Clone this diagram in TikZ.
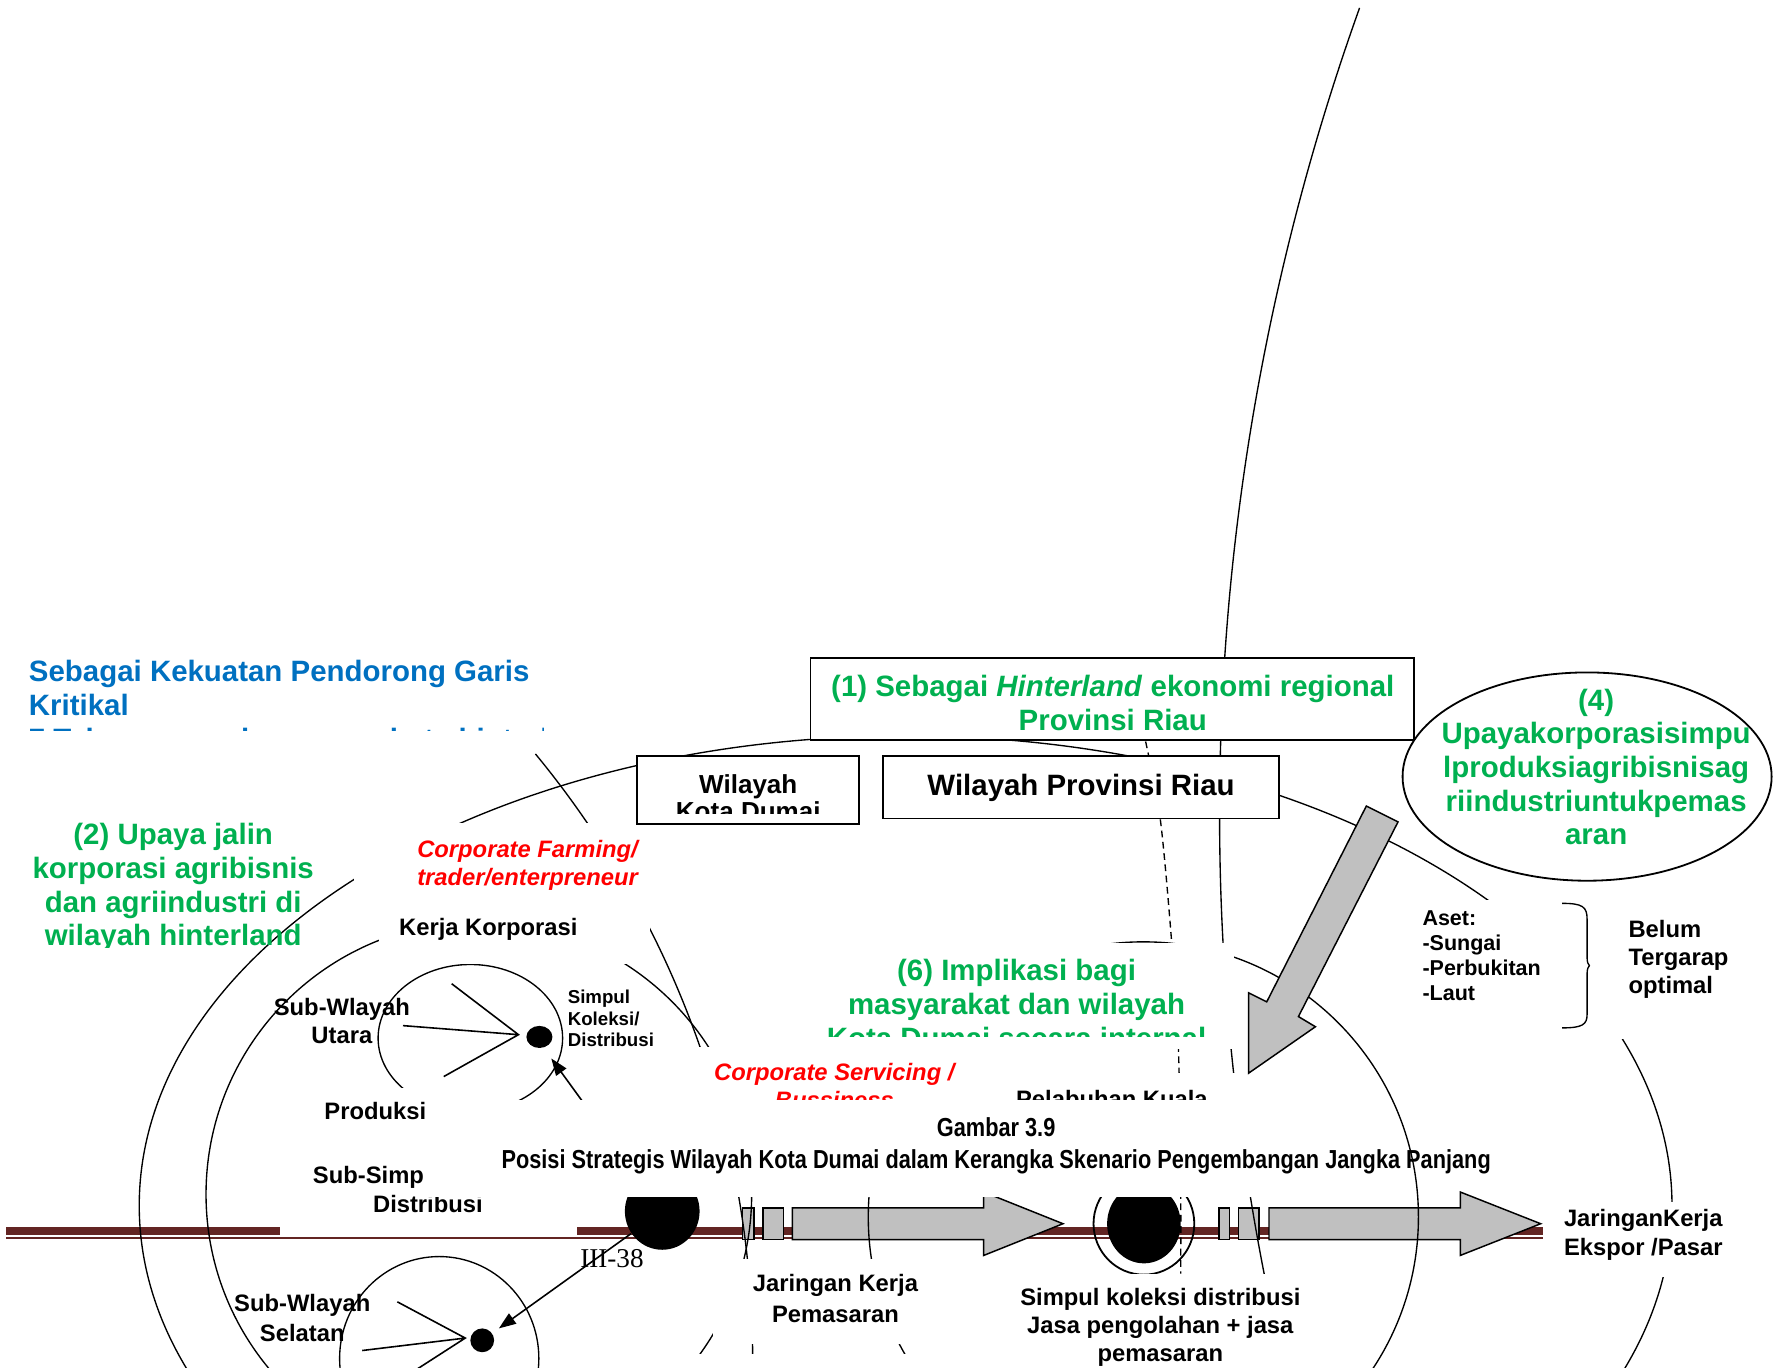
\documentclass[tikz,border=0pt]{standalone}
\usepackage{fontspec}
\setmainfont{Liberation Sans}
\newfontfamily\pagefont{Liberation Serif}
\newfontfamily\sempit[FakeStretch=0.835]{Liberation Sans}
\usetikzlibrary{arrows.meta,shapes.geometric}

\definecolor{hijau}{RGB}{0,176,80}
\definecolor{biru}{RGB}{0,112,192}
\definecolor{merah}{RGB}{255,0,0}
\definecolor{garis}{RGB}{99,37,35}
\definecolor{abu}{RGB}{192,192,192}

\tikzset{
  teks/.style={inner sep=0pt, font=\bfseries\fontsize{21}{25}\selectfont},
  besar/.style={inner sep=0pt, font=\bfseries\fontsize{26}{29.7}\selectfont},
  kecil/.style={inner sep=0pt, font=\bfseries\fontsize{16.5}{19}\selectfont},
  miring/.style={inner sep=0pt, text=merah, font=\bfseries\itshape\fontsize{21}{24}\selectfont},
  tutup/.style={fill=white},
  kotak/.style={draw, line width=1.6pt, fill=white, inner sep=0pt},
  panah/.style={draw, line width=1.3pt, fill=abu},
  titik/.style={ellipse, fill=black, inner sep=0pt},
  jari/.style={line width=1.4pt},
  ujung/.style={-{Triangle[length=15pt,width=11pt]}, line width=1.4pt}
}

\begin{document}
\begin{tikzpicture}[x=1pt, y=-1pt, line width=1.2pt]
\useasboundingbox (0,0) rectangle (1568,1208);
\clip (0,0) rectangle (1568,1208);

% garis kaki halaman
\fill[garis] (5,1084) rectangle (1363,1091);
\fill[garis] (5,1092.8) rectangle (1363,1094.4);

% pita panah
\draw[panah] (656,1067) rectangle (666,1095);
\draw[panah] (674,1067) rectangle (692,1095);
\draw[panah] (700,1067) -- (869,1067) -- (869,1053) -- (939,1081) -- (869,1109) -- (869,1095) -- (700,1095) -- cycle;
\draw[panah] (1077,1067) rectangle (1086,1095);
\draw[panah] (1094,1067) rectangle (1112,1095);
\draw[panah] (1121,1067) -- (1290,1067) -- (1290,1053) -- (1361,1081) -- (1290,1109) -- (1290,1095) -- (1121,1095) -- cycle;

% simpul
\node[titik, minimum width=66pt, minimum height=68pt] (dumai) at (585,1070) {};
\node[ellipse, draw, line width=1.6pt, minimum width=89pt, minimum height=90pt] (kuala) at (1010.5,1081) {};
\node[titik, minimum width=65pt, minimum height=70pt] (kualadot) at (kuala) {};

% sub-wilayah utara
\node[ellipse, draw, minimum width=163pt, minimum height=130pt] (utara) at (415.5,917) {};
\node[titik, minimum width=23pt, minimum height=19.5pt] (utaradot) at (476.5,916) {};
\coordinate (uv) at (458,914);
\coordinate (u1) at (399,869);
\coordinate (u2) at (356,906);
\coordinate (u3) at (392,951);
\draw[jari] (u1) -- (uv) -- (u3) (u2) -- (uv);

% sub-wilayah selatan
\node[ellipse, draw, minimum width=176pt, minimum height=180pt] (selatan) at (388,1200) {};
\node[titik, minimum width=21pt, minimum height=21pt] (selatandot) at (426,1184) {};
\coordinate (sv) at (411,1182);
\coordinate (s1) at (351,1150);
\coordinate (s2) at (320,1193);
\coordinate (s3) at (352,1220);
\draw[jari] (s1) -- (sv) -- (s3) (s2) -- (sv);

\coordinate (utaratip) at (487,935);
\draw[ujung] (dumai) -- (utaratip);
\draw[ujung, shorten >=7pt] (dumai) -- (selatandot);

% lingkaran wilayah
\draw (800,1065) ellipse [x radius=677, y radius=415];
\draw (423,1055) circle [radius=241];
\draw (1010,1075) circle [radius=243];
\draw (473,666) arc [start angle=-39.5, end angle=3, radius=840];
\draw (1201,7) arc [start angle=199.7, end angle=168, radius=2112];
\draw[dash pattern=on 6pt off 4pt] plot[smooth] coordinates {(1012,655) (1025,724) (1035,832) (1041,927) (1043,1057) (1043,1125)};

% panah besar
\draw[panah] (1207,712) -- (1235,726) -- (1147,898) -- (1162,907) -- (1103,948) -- (1103,877) -- (1119,885) -- cycle;

% bidang teks
\fill[tutup] (313,727) rectangle (577,797);
\fill[tutup] (335,797) rectangle (574,852);
\fill[tutup] (600,925) rectangle (858,972);
\fill[tutup] (720,833) rectangle (1090,927);
\fill[tutup] (880,948) rectangle (1095,972);
\fill[tutup] (280,961) rectangle (376,1000);
\fill[tutup] (247,1040) rectangle (510,1092);
\fill[tutup] (1250,795) rectangle (1540,918);
\fill[tutup] (1378,1062) rectangle (1530,1128);
\fill[tutup] (630,1112) rectangle (835,1187);
\fill[tutup] (890,1125) rectangle (1165,1210);
\fill[tutup] (605,1196) rectangle (860,1210);

% kotak wilayah
\node[kotak, minimum width=533pt, minimum height=73pt] (satu) at (982.5,617.5) {};
\node[kotak, minimum width=196pt, minimum height=60pt] (kotadumai) at (661,698) {};
\node[kotak, minimum width=350pt, minimum height=55pt] (riau) at (955,695.5) {};
\node[kotak, ellipse, minimum width=326pt, minimum height=184pt] (empat) at (1402,686) {};

% teks
\begin{scope}
\clip (0,570) rectangle (480,645);
\node[besar, text=biru, align=left, anchor=north west] (kritikal) at (25,583) {Sebagai Kekuatan Pendorong Garis\\Kritikal\\7 Tahapan pembangunan kota hinterland terpadu};
\end{scope}
\begin{scope}
\clip (0,700) rectangle (300,837);
\node[besar, text=hijau, align=center, anchor=north] (jalin) at (153,727) {(2) Upaya jalin\\korporasi agribisnis\\dan agriindustri di\\wilayah hinterland};
\end{scope}
\node[miring, align=left, anchor=north west] (farming) at (368,742) {Corporate Farming/\\trader/enterpreneur};
\node[teks, anchor=base west] (korporasi) at (352,826) {Kerja Korporasi};
\node[besar, text=hijau, align=center, anchor=north] (satuteks) at (983,596) {(1) Sebagai \textit{Hinterland} ekonomi regional\\Provinsi Riau};
\begin{scope}
\clip (563,668) rectangle (759,719);
\node[inner sep=0pt, font=\bfseries\fontsize{23}{24}\selectfont, align=center, anchor=north] (kdteks) at (661,683.5) {Wilayah\\Kota Dumai};
\end{scope}
\node[besar, anchor=base] (riauteks) at (955,703) {Wilayah Provinsi Riau};
\node[besar, text=hijau, align=center, anchor=north] (empatteks) at (1410,608) {(4)\\Upayakorporasisimpu\\lproduksiagribisnisag\\riindustriuntukpemas\\aran};
\node[inner sep=0pt, font=\bfseries\fontsize{19}{22}\selectfont, align=left, anchor=north west] (aset) at (1256,804) {Aset:\\-Sungai\\-Perbukitan\\-Laut};
\draw (1380,798) .. controls (1398,798) and (1402,801) .. (1402,812) -- (1402,846) .. controls (1402,850) and (1403,852) .. (1404,853) .. controls (1403,854) and (1402,856) .. (1402,860) -- (1402,896) .. controls (1402,905) and (1398,908) .. (1380,908);
\node[teks, align=left, anchor=north west] (belum) at (1438,812) {Belum\\Tergarap\\optimal};
\begin{scope}
\clip (700,833) rectangle (1100,916);
\node[besar, text=hijau, align=center, anchor=north] (enam) at (898,847) {(6) Implikasi bagi\\masyarakat dan wilayah\\Kota Dumai secara internal};
\end{scope}
\node[kecil, align=left, anchor=north west] (koleksi) at (501,874) {Simpul\\Koleksi/\\Distribusi};
\node[teks, align=center, anchor=north] (utarateks) at (302,881) {Sub-Wlayah\\Utara};
\node[teks, anchor=base west] (produksi) at (286,989) {Produksi};
\node[teks, align=center, anchor=north] (subsimpul) at (378,1030) {Sub-Simpul Koleksi/\\Distribusi};
\node[miring, align=center, anchor=north] (servicing) at (737,939) {Corporate Servicing /\\Bussiness};
\node[teks, anchor=base west] (pelabuhan) at (897,978) {Pelabuhan Kuala};

% pita judul
\fill[tutup] (375,972) rectangle (1215,1057);
\node[inner sep=0pt, font=\sempit\bfseries\fontsize{23}{28}\selectfont, align=center, anchor=north] (judul) at (880,987) {Gambar 3.9\\Posisi Strategis Wilayah Kota Dumai dalam Kerangka Skenario Pengembangan Jangka Panjang};

\node[inner sep=0pt, font=\pagefont\fontsize{24}{28}\selectfont, anchor=base west] (halaman) at (512,1120) {III-38};
\node[inner sep=0pt, font=\bfseries\fontsize{21}{27}\selectfont, align=center, anchor=north] (pemasaran) at (738,1125) {Jaringan Kerja\\Pemasaran};
\node[teks, align=center, anchor=north] (jasa) at (1025,1137) {Simpul koleksi distribusi\\Jasa pengolahan + jasa\\pemasaran};
\node[teks, align=left, anchor=north west] (ekspor) at (1381,1068) {JaringanKerja\\Ekspor /Pasar};
\node[inner sep=0pt, font=\bfseries\fontsize{21}{26}\selectfont, align=center, anchor=north] (selatanteks) at (267,1143) {Sub-Wlayah\\Selatan};
\end{tikzpicture}
\end{document}
